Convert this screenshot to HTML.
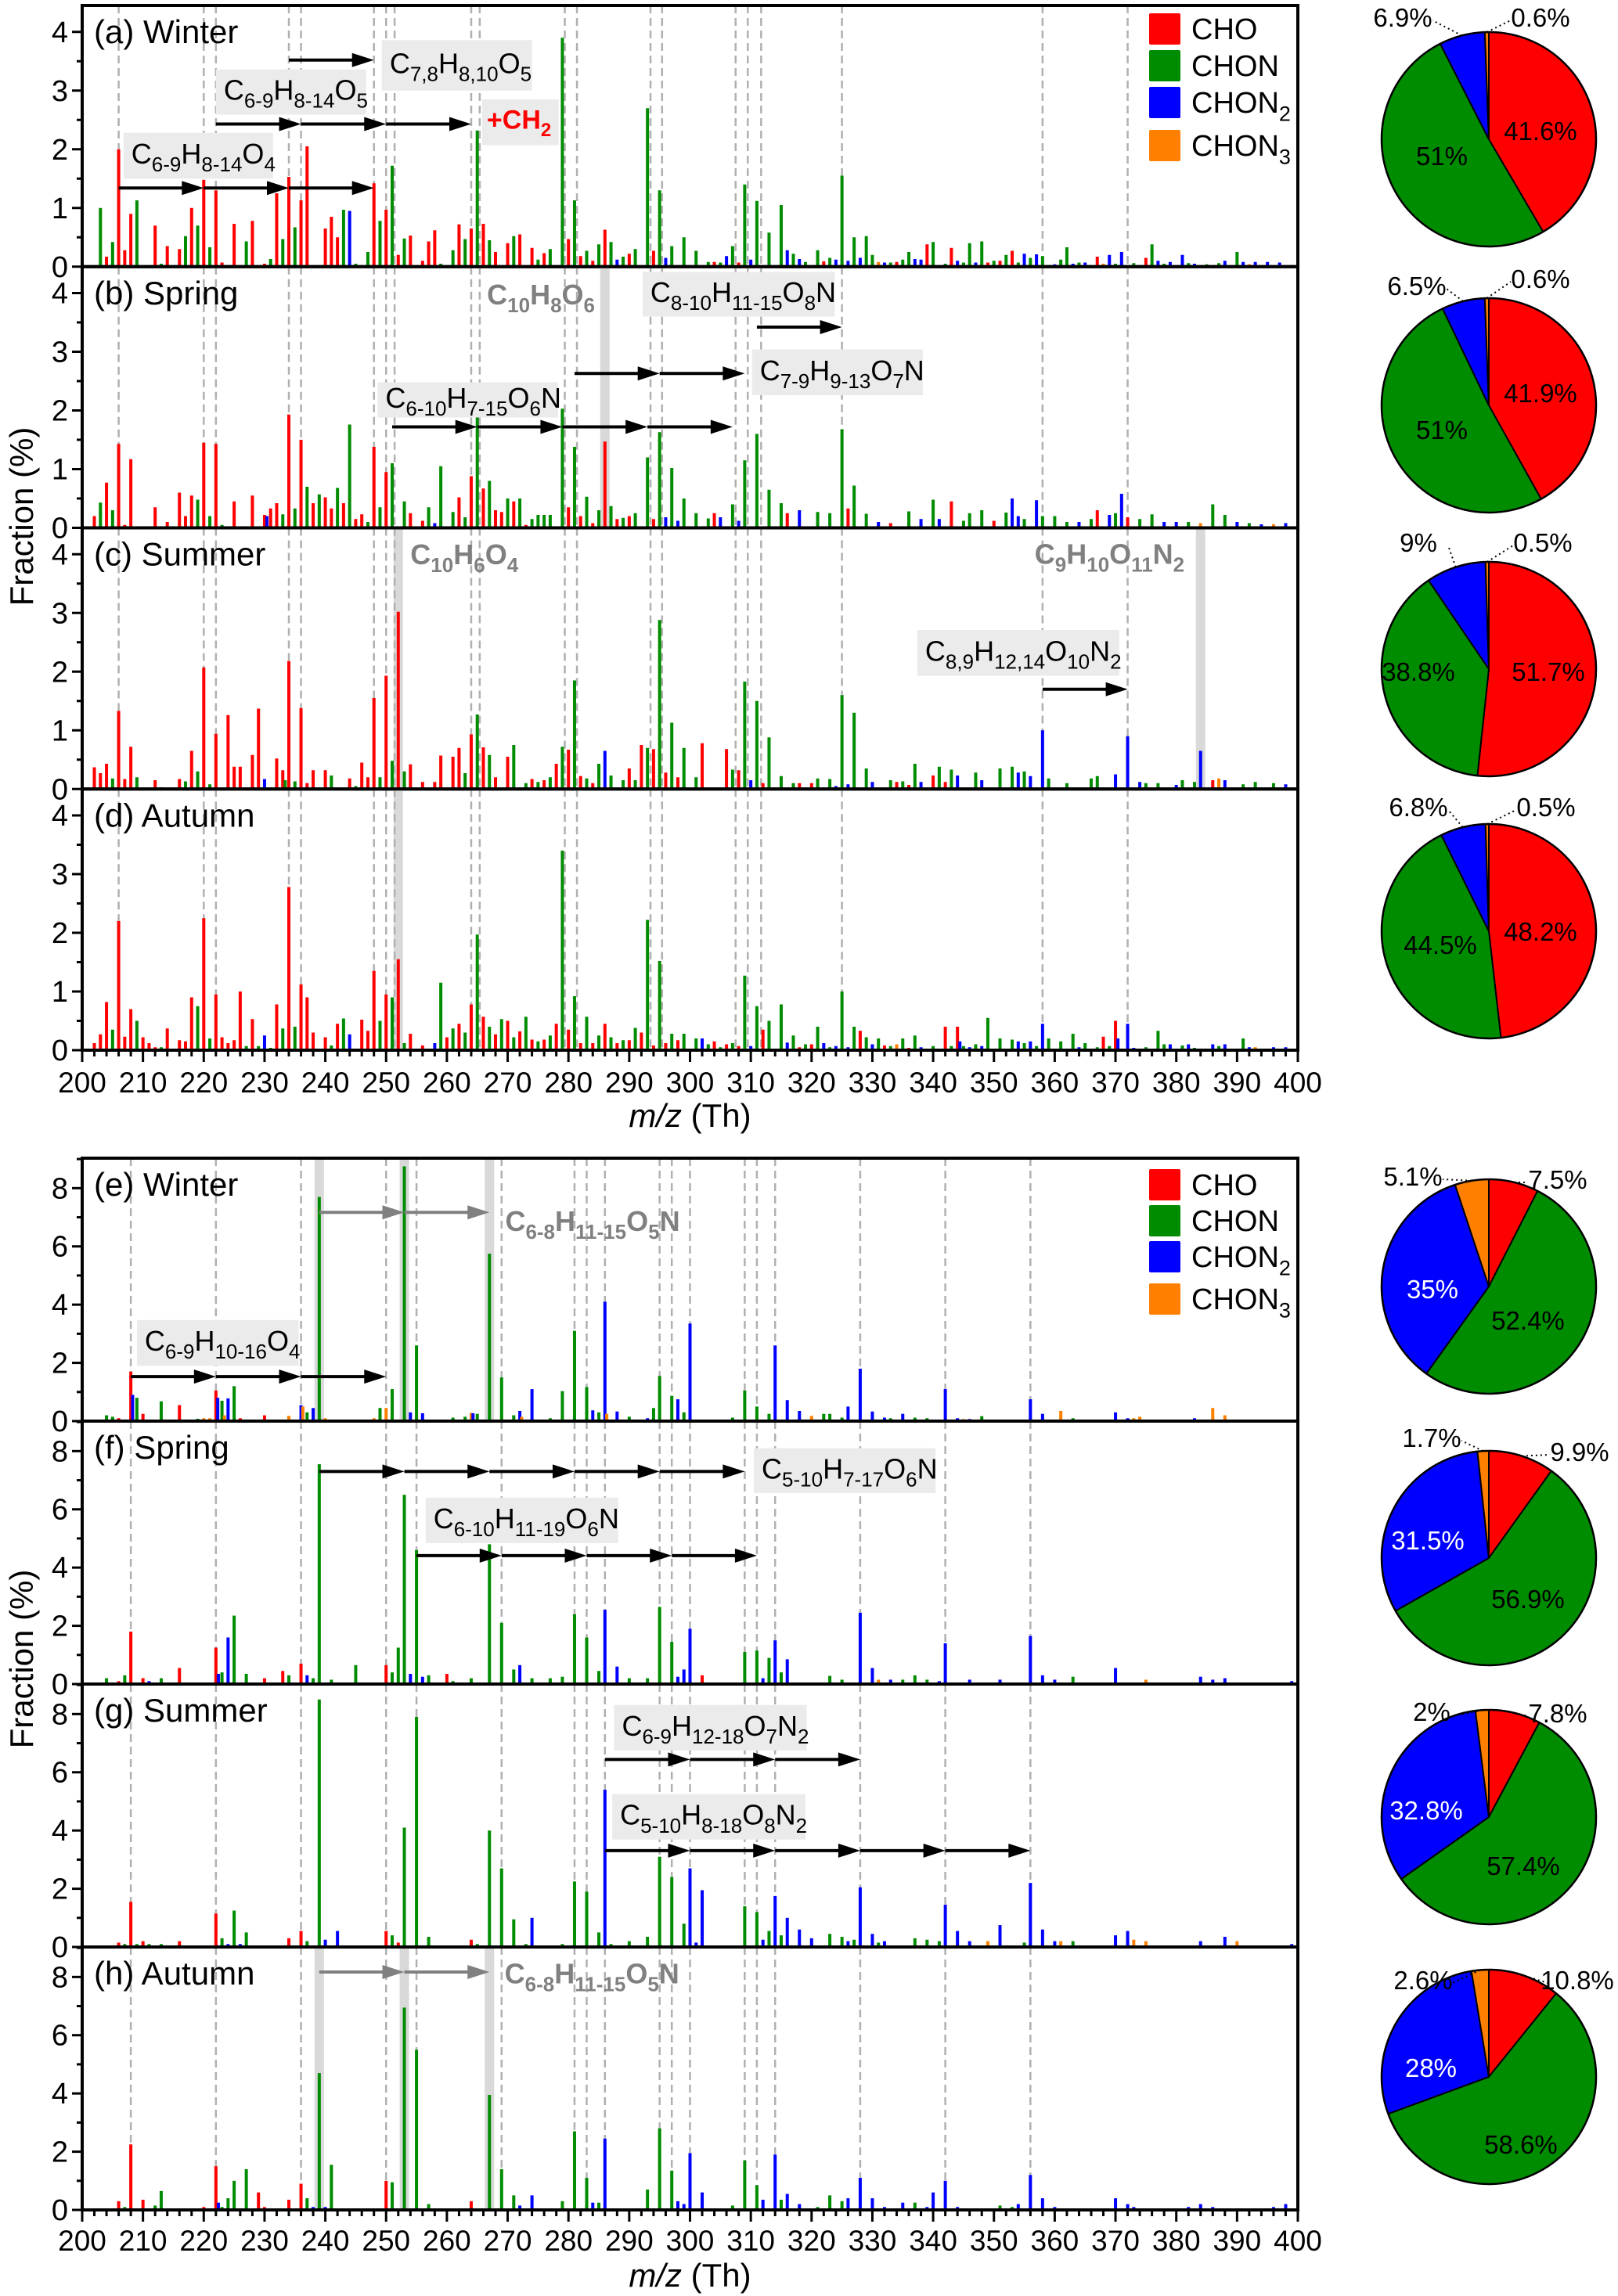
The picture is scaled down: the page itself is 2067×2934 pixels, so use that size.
<!DOCTYPE html>
<html><head><meta charset="utf-8"><title>Seasonal mass spectra</title>
<style>
html,body{margin:0;padding:0;background:#fff;}
svg{display:block;font-family:"Liberation Sans",Arial,sans-serif;}
</style></head>
<body>
<svg id="chart" width="2067" height="2934" viewBox="0 0 2067 2934" xmlns="http://www.w3.org/2000/svg"></svg>
<script>
// ---------- DATA ----------  [m/z, fraction %, class 0=CHO 1=CHON 2=CHON2 3=CHON3]
const seriesWinterA=[[203,1.0,1],[204,.17,0],[205,.42,1],[206,2.0,0],[207,.28,0],[208,.9,0],[209,1.13,1],[212,.7,0],[213,.05,1],[214,.35,0],[216,.3,0],[217,.52,1],[218,1.0,0],[219,.7,1],[220,1.48,0],[221,.33,1],[222,1.3,0],[223,.07,0],[225,.73,0],[227,.43,1],[228,.78,0],[230,.05,0],[231,.13,1],[232,1.25,0],[233,.47,1],[234,1.53,0],[235,.67,1],[236,1.13,0],[237,2.05,0],[240,.65,0],[241,.85,0],[242,.5,0],[243,.97,1],[244,.95,2],[245,.05,1],[247,.25,1],[248,1.42,0],[249,.78,1],[250,.97,0],[251,1.72,1],[252,.2,0],[253,.48,1],[254,.53,0],[256,.1,0],[257,.43,0],[258,.62,0],[259,.05,1],[261,.28,1],[262,.72,0],[263,.47,1],[264,.65,0],[265,2.32,1],[266,.73,0],[267,.45,1],[268,.25,0],[270,.4,0],[271,.52,1],[272,.55,0],[274,.32,0],[275,.12,1],[276,.23,0],[277,.3,1],[279,3.9,1],[280,.47,0],[281,1.13,1],[282,.18,0],[283,.27,1],[284,.1,0],[285,.38,1],[286,.63,0],[287,.42,1],[288,.12,2],[289,.17,1],[290,.22,0],[291,.3,1],[293,2.7,1],[294,.27,0],[295,1.3,1],[296,.15,2],[297,.35,1],[299,.5,1],[301,.27,1],[303,.08,1],[304,.08,0],[305,.07,1],[306,.18,2],[307,.35,1],[308,.07,0],[309,1.4,1],[310,.12,2],[311,1.12,1],[313,.58,1],[315,1.05,1],[316,.28,2],[317,.22,1],[318,.13,2],[319,.08,1],[321,.28,1],[322,.09,0],[323,.15,1],[324,.12,2],[325,1.55,1],[326,.1,2],[327,.5,1],[328,.15,2],[329,.52,1],[330,.2,1],[331,.08,3],[332,.07,2],[333,.07,1],[334,.08,0],[335,.12,1],[336,.25,1],[337,.13,2],[338,.12,2],[339,.38,0],[340,.42,1],[342,.05,1],[343,.32,0],[344,.1,2],[345,.07,1],[346,.4,1],[347,.07,2],[348,.43,1],[349,.07,0],[350,.1,1],[351,.1,0],[352,.2,1],[353,.27,0],[354,.07,1],[355,.22,2],[356,.15,1],[357,.21,2],[358,.18,1],[360,.04,2],[361,.12,1],[362,.33,1],[363,.05,2],[364,.07,1],[365,.07,2],[367,.17,0],[368,.05,3],[369,.2,2],[370,.05,1],[371,.25,2],[373,.06,1],[375,.15,0],[376,.38,1],[377,.1,2],[378,.05,1],[379,.08,2],[381,.2,2],[382,.06,1],[383,.05,2],[385,.04,1],[387,.06,1],[388,.1,2],[390,.25,1],[391,.08,2],[392,.04,3],[393,.08,2],[395,.08,2],[397,.07,2],[399,.03,3]];
const seriesSpringB=[[202,.2,0],[203,.43,1],[204,.77,0],[205,.3,1],[206,1.43,0],[207,.05,0],[208,1.17,0],[212,.35,0],[214,.1,0],[216,.6,0],[217,.2,0],[218,.55,0],[219,.48,1],[220,1.45,0],[221,.2,1],[222,1.43,0],[223,.05,1],[225,.45,0],[228,.55,0],[230,.22,0],[230.4,.2,2],[231,.33,0],[232,.42,0],[233,.23,1],[234,1.93,0],[235,.33,1],[236,1.5,0],[237,.7,1],[238,.42,0],[239,.57,1],[240,.52,0],[241,.33,0],[242,.68,1],[243,.42,0],[244,1.76,1],[245,.15,0],[246,.23,0],[247,.1,1],[248,1.38,0],[249,.35,1],[250,.95,0],[251,1.1,1],[253,.45,1],[254,.25,0],[256,.12,0],[257,.35,1],[258,.08,2],[259,1.05,1],[261,.27,1],[262,.52,0],[263,.18,1],[264,.88,0],[265,1.88,1],[266,.67,0],[267,.8,1],[268,.3,0],[269,.27,0],[270,.5,1],[271,.45,0],[272,.5,1],[273,.05,0],[274,.15,1],[275,.22,1],[276,.22,1],[277,.22,1],[279,2.03,1],[280,.35,0],[281,1.38,1],[282,.2,0],[283,.53,1],[284,.08,0],[285,.3,1],[286,1.47,0],[287,.37,1],[288,.15,0],[289,.17,1],[290,.2,0],[291,.25,1],[293,1.2,1],[294,.15,0],[295,1.63,1],[296,.18,2],[297,1.02,1],[298,.12,2],[299,.5,1],[301,.25,1],[303,.16,1],[304,.25,0],[305,.18,2],[307,.4,1],[308,.12,2],[309,1.15,1],[311,1.6,1],[313,.65,1],[315,.42,1],[316,.25,0],[318,.3,2],[321,.27,1],[323,.25,1],[325,1.68,1],[326,.33,0],[327,.72,1],[329,.24,1],[331,.1,2],[333,.08,0],[336,.28,1],[338,.15,2],[340,.48,1],[341,.15,2],[343,.45,0],[345,.12,1],[346,.25,1],[348,.3,1],[350,.12,0],[352,.26,1],[353,.5,2],[354,.2,2],[355,.15,1],[357,.47,2],[358,.2,1],[360,.2,1],[362,.1,1],[364,.1,2],[366,.15,1],[367,.3,0],[369,.22,2],[370,.25,1],[371,.58,2],[372,.18,0],[374,.15,1],[376,.23,1],[378,.1,2],[380,.1,2],[382,.1,1],[384,.08,3],[386,.4,1],[388,.22,1],[390,.1,2],[392,.08,1],[394,.06,2],[396,.06,3],[398,.08,2]];
const seriesSummerC=[[202,.37,0],[203,.27,0],[204,.43,0],[205,.18,1],[206,1.33,0],[207,.17,0],[208,.72,0],[209,.2,1],[212,.15,0],[213,.03,1],[216,.17,0],[217,.13,1],[218,.65,0],[219,.3,1],[220,2.07,0],[221,.08,1],[222,.94,0],[224,1.26,0],[225,.38,0],[226,.38,0],[228,.58,0],[229,1.37,0],[230,.17,2],[232,.52,0],[233,.32,0],[233.4,.15,1],[234,2.18,0],[235,.13,1],[236,1.38,0],[237,.1,0],[238,.32,0],[240,.32,0],[241,.23,1],[244,.18,0],[245,.05,1],[246,.45,0],[247,.2,0],[248,1.55,0],[249,.2,1],[250,1.93,0],[251,.48,1],[252,3.02,0],[253,.3,1],[254,.42,0],[256,.12,0],[258,.12,0],[259,.57,0],[261,.55,0],[262,.7,0],[263,.27,1],[264,.93,0],[265,1.27,1],[266,.71,0],[267,.58,1],[268,.2,0],[270,.55,0],[271,.75,1],[273,.1,1],[274,.17,0],[275,.12,1],[276,.15,0],[277,.2,1],[278,.43,0],[279,.72,1],[280,.67,0],[281,1.85,1],[282,.22,0],[283,.18,1],[284,.1,0],[285,.43,1],[286,.65,2],[287,.23,1],[289,.15,1],[290,.35,0],[291,.15,1],[292,.75,0],[293,.7,1],[294,.68,0],[295,2.88,1],[296,.28,0],[297,1.13,1],[298,.2,0],[299,.7,1],[301,.2,1],[302,.78,0],[306,.68,0],[307,.33,1],[308,.32,0],[309,1.83,1],[310,.15,2],[311,1.5,1],[312,.1,0],[313,.88,1],[315,.22,1],[317,.1,1],[318,.1,0],[320,.1,0],[321,.18,1],[323,.17,1],[324,.05,2],[325,1.6,1],[326,.08,2],[327,1.3,1],[329,.35,1],[330,.12,2],[333,.15,1],[334,.12,0],[335,.13,1],[336,.07,0],[337,.43,1],[338,.12,2],[340,.23,0],[341,.38,1],[342,.12,0],[343,.33,1],[344,.23,2],[347,.28,1],[348,.15,2],[351,.35,1],[353,.38,1],[354,.28,2],[355,.3,1],[356,.22,2],[358,1.0,2],[359,.18,1],[362,.1,1],[366,.18,1],[367,.22,1],[370,.25,2],[372,.9,2],[374,.12,2],[375,.1,1],[377,.1,1],[380,.07,2],[381,.15,1],[383,.12,1],[384,.65,2],[386,.15,0],[387,.18,3],[388,.15,2],[391,.08,1],[393,.12,1],[396,.1,1],[398,.08,2]];
const seriesAutumnD=[[202,.12,0],[203,.27,0],[204,.82,0],[205,.35,1],[206,2.2,0],[207,.23,0],[208,.7,0],[209,.5,1],[210,.22,0],[211,.12,0],[212,.05,0],[213,.05,1],[214,.37,0],[216,.17,0],[217,.15,0],[218,.9,0],[219,.75,1],[220,2.25,0],[221,.2,1],[222,.95,0],[223,.22,0],[224,.12,0],[225,.17,0],[226,1.0,0],[227,.07,1],[228,.53,0],[229,.07,1],[230,.25,2],[231,.04,1],[232,.78,0],[233,.37,1],[234,2.78,0],[235,.4,1],[236,1.12,0],[237,.9,0],[238,.3,0],[240,.22,0],[241,.08,1],[242,.45,0],[243,.54,1],[244,.27,2],[246,.52,0],[247,.33,0],[248,1.35,0],[249,.5,1],[250,.95,0],[251,.9,1],[252,1.55,0],[253,.12,1],[254,.28,0],[256,.08,0],[258,.12,2],[259,1.15,1],[260,.22,0],[261,.37,1],[262,.45,0],[263,.3,1],[264,.78,0],[265,1.97,1],[266,.57,0],[267,.4,1],[268,.27,0],[269,.53,1],[270,.5,0],[271,.22,1],[272,.32,0],[273,.57,1],[274,.18,0],[275,.15,1],[276,.18,0],[277,.25,1],[278,.45,0],[279,3.4,1],[280,.35,0],[281,.92,1],[282,.12,0],[283,.57,1],[284,.12,0],[285,.25,1],[286,.45,0],[287,.22,1],[288,.12,0],[289,.17,1],[290,.17,0],[291,.38,1],[292,.3,0],[293,2.22,1],[294,.08,0],[295,1.52,1],[296,.12,0],[297,.28,1],[298,.17,0],[299,.28,1],[301,.2,1],[302,.2,2],[303,.1,1],[304,.15,0],[305,.05,1],[306,.1,0],[307,.12,1],[308,.07,0],[309,1.27,1],[310,.07,2],[311,.75,1],[312,.35,0],[313,.5,1],[315,.78,1],[316,.13,2],[317,.25,1],[318,.05,0],[319,.1,1],[320,.1,0],[321,.4,1],[322,.12,2],[323,.05,1],[324,.07,2],[325,1.0,1],[326,.05,2],[327,.4,1],[328,.33,0],[329,.22,1],[330,.1,2],[331,.2,1],[332,.08,0],[333,.07,1],[334,.1,3],[335,.2,1],[336,.04,0],[337,.25,1],[338,.05,2],[340,.07,1],[342,.4,0],[343,.07,1],[344,.4,0],[344.4,.15,2],[345,.07,1],[346,.05,2],[347,.1,1],[348,.07,2],[349,.55,1],[351,.2,1],[353,.18,1],[354,.15,2],[355,.12,1],[356,.15,2],[357,.07,1],[358,.45,2],[359,.2,1],[361,.15,1],[363,.28,1],[364,.05,2],[365,.12,1],[367,.05,1],[368,.23,0],[369,.07,1],[370,.5,0],[370.4,.2,2],[372,.45,2],[373,.04,2],[375,.05,1],[377,.33,1],[378,.1,1],[379,.1,2],[381,.08,1],[382,.1,2],[383,.04,1],[386,.1,2],[387,.07,1],[388,.1,2],[391,.2,1],[392,.05,2],[393,.05,3],[396,.05,2],[398,.05,2]];
const seriesWinterE=[[204,.2,1],[205,.15,1],[206,.1,0],[207,.05,1],[208,1.7,0],[208.3,.9,2],[209,.8,1],[210,.25,0],[213,.68,1],[216,.55,0],[219,.08,1],[220,.1,3],[221,.1,3],[222,1.05,0],[222.3,.8,2],[223,.7,1],[223.4,.2,3],[224,.78,2],[225,1.2,1],[226,.1,0],[230,.2,0],[234,.18,3],[236,.55,2],[236.3,.5,3],[237,.3,1],[238,.45,2],[239,7.7,1],[240,.1,3],[248,.1,3],[249,.45,1],[250,.45,3],[251,1.1,1],[253,8.75,1],[254,.3,2],[255,2.6,1],[256,.27,2],[261,.12,1],[263,.15,1],[264,.28,3],[264.3,.27,2],[265,.25,1],[267,5.75,1],[269,1.5,1],[271,.2,1],[272,.35,2],[272.3,.15,3],[274,1.1,2],[277,.1,1],[278,.05,0],[279,1.03,1],[281,3.1,1],[283,1.17,1],[284,.37,2],[285,.3,1],[286,4.1,2],[286.3,.25,3],[288,.33,2],[290,.15,1],[293,.1,2],[294,.45,1],[295,1.55,1],[297,.87,1],[298,.75,2],[299,.3,1],[300,3.35,2],[307,.12,1],[309,1.05,1],[310,.05,2],[311,.5,1],[313,.25,1],[314,2.6,2],[316,.72,2],[318,.35,2],[320,.18,3],[321,.05,1],[322,.25,1],[323,.25,1],[324,.05,1],[325,.12,1],[326,.5,2],[328,1.8,2],[330,.33,2],[332,.12,2],[333,.1,1],[335,.25,2],[337,.12,1],[339,.1,1],[342,1.1,2],[344,.1,2],[345,.07,3],[346,.07,2],[348,.17,1],[350,.05,1],[356,.75,2],[358,.25,2],[360,.05,2],[361,.35,3],[363,.1,1],[370,.3,2],[372,.1,2],[373,.1,3],[374,.15,3],[383,.1,2],[385,.05,2],[386,.45,3],[388,.2,3],[389,.05,2],[397,.05,2],[399,.05,2]];
const seriesSpringF=[[204,.2,1],[206,.1,0],[207,.3,1],[208,1.8,0],[210,.2,0],[211,.1,2],[213,.2,1],[216,.55,0],[222,1.25,0],[222.4,.35,2],[223,.4,1],[224,1.6,2],[225,2.35,1],[227,.35,1],[230,.2,0],[233,.45,0],[234,.3,1],[236,.7,0],[237,.3,2],[238,.2,1],[239,7.55,1],[241,.15,1],[245,.65,1],[250,.65,0],[251,.4,1],[252,1.25,1],[253,6.5,1],[254,.35,2],[255,4.6,1],[256,.25,2],[257,.3,1],[260,.35,0],[261,.1,1],[264,.2,1],[267,4.8,1],[269,2.1,1],[271,.5,1],[272,.65,2],[274,.2,1],[277,.2,1],[279,.25,1],[281,2.4,1],[283,1.6,1],[285,.45,1],[286,2.55,2],[288,.6,2],[290,.2,1],[293,.2,1],[295,2.65,1],[297,1.45,1],[298,.25,2],[299,.5,2],[300,1.9,2],[302,.3,0],[309,1.1,1],[311,1.15,1],[312,.2,2],[313,.9,1],[314,1.5,2],[315,.4,1],[316,.85,2],[323,.28,1],[325,.15,1],[328,2.45,2],[330,.55,2],[331,.15,3],[333,.15,2],[335,.15,1],[337,.3,1],[339,.15,1],[341,.1,2],[342,1.4,2],[346,.15,2],[351,.15,2],[356,1.65,2],[358,.3,2],[360,.15,2],[363,.25,1],[370,.55,2],[375,.15,3],[384,.25,2],[386,.15,2],[388,.2,2],[399,.1,2]];
const seriesSummerG=[[204,.05,1],[206,.15,0],[207,.1,1],[208,1.55,0],[209,.1,1],[210,.2,0],[211,.1,1],[213,.1,1],[216,.2,0],[219,.05,1],[222,1.15,0],[223,.3,1],[224,.1,2],[225,1.25,1],[226,.1,2],[227,.5,1],[234,.3,0],[236,.55,0],[237,.2,1],[239,8.5,1],[240,.25,2],[242,.55,2],[250,.55,0],[251,.4,1],[252,.15,0],[253,4.1,1],[255,7.9,1],[257,.35,1],[264,.25,0],[265,.1,1],[267,4.0,1],[269,2.7,1],[271,.95,1],[273,.1,1],[274,1.0,2],[279,.1,1],[281,2.25,1],[283,1.9,1],[285,.5,1],[286,5.4,2],[287,.1,1],[290,.2,1],[293,.35,1],[295,3.1,1],[297,2.4,1],[299,.8,1],[300,2.7,2],[301,.15,2],[302,1.95,2],[309,1.4,1],[311,1.2,1],[312,.25,2],[313,.55,1],[314,1.75,2],[315,.4,1],[316,1.0,2],[318,.6,2],[320,.3,2],[323,.45,1],[325,.35,1],[326,.2,2],[327,.25,1],[328,2.05,2],[330,.45,2],[331,.15,1],[332,.2,2],[337,.3,1],[339,.25,1],[341,.2,1],[342,1.45,2],[344,.55,2],[346,.2,2],[349,.2,3],[351,.75,2],[355,.15,1],[356,2.2,2],[358,.6,2],[360,.2,2],[361,.2,3],[363,.2,1],[370,.4,2],[372,.55,2],[373,.25,3],[375,.2,3],[384,.2,2],[388,.35,2],[390,.2,3],[399,.1,2]];
const seriesAutumnH=[[204,.05,1],[206,.3,0],[207,.1,1],[208,2.25,0],[210,.35,0],[212,.15,1],[213,.65,1],[219,.05,1],[220,.1,0],[222,1.5,0],[222.4,.25,2],[223,.1,1],[224,.4,1],[225,1.0,1],[227,1.4,1],[229,.6,0],[230,.1,0],[234,.35,0],[236,.9,0],[237,.4,1],[238,.1,2],[239,4.7,1],[240,.1,2],[241,1.55,1],[250,1.0,0],[251,.95,1],[253,6.95,1],[255,5.5,1],[257,.2,1],[264,.3,0],[267,3.95,1],[269,1.4,1],[271,.5,1],[272,.15,2],[274,.5,2],[279,.3,1],[281,2.7,1],[283,1.1,1],[284,.25,2],[285,.25,1],[286,2.45,2],[293,.7,1],[295,2.8,1],[297,1.35,1],[298,.3,2],[299,.2,2],[300,1.95,2],[302,.6,2],[307,.15,1],[309,1.7,1],[311,.85,1],[312,.35,2],[314,1.9,2],[315,.35,1],[316,.55,2],[318,.2,2],[321,.1,1],[323,.5,1],[325,.3,1],[326,.4,2],[328,1.1,2],[330,.4,2],[332,.1,2],[335,.25,2],[337,.25,1],[339,.1,2],[340,.6,2],[342,1.0,2],[344,.1,2],[351,.15,1],[353,.1,1],[354,.2,2],[356,1.2,2],[358,.4,2],[360,.1,2],[365,.05,1],[370,.4,2],[372,.2,2],[373,.1,2],[382,.1,2],[384,.2,2],[386,.1,2],[396,.1,2],[398,.2,2]];

const pieValuesA=[41.6,51,6.9,0.6];
const pieValuesB=[41.9,51,6.5,0.6];
const pieValuesC=[51.7,38.8,9,0.5];
const pieValuesD=[48.2,44.5,6.8,0.5];
const pieValuesE=[7.5,52.4,35,5.1];
const pieValuesF=[9.9,56.9,31.5,1.7];
const pieValuesG=[7.8,57.4,32.8,2];
const pieValuesH=[10.8,58.6,28,2.6];

const classNames=['CHO','CHON','CHON_{2}','CHON_{3}'];
const topYTicks=[0,1,2,3,4];
const bottomYTicks=[0,2,4,6,8];
const xTickLabels=[200,210,220,230,240,250,260,270,280,290,300,310,320,330,340,350,360,370,380,390,400];
const topDashed=[206,220,222,234,236,248,250,251.4,264,265.4,279.4,281.4,293.5,295.4,307.5,309.5,311.7,325,358,372];
const bottomDashed=[208,222,236,250,255,269,281,283,286,295,297,300,309,311,314,328,342,356];

// ---------- RENDER ----------
const NS='http://www.w3.org/2000/svg';
const svg=document.getElementById('chart');
const COLORS=['#ff0000','#008c00','#0000ff','#ff8000'];
const PL=105, PR=1658;
function xS(mz){return PL+(mz-200)*(PR-PL)/200;}
function el(tag,attrs,parent){const e=document.createElementNS(NS,tag);for(const k in attrs)e.setAttribute(k,attrs[k]);(parent||svg).appendChild(e);return e;}
function yS(p,v){return p.top+p.H-v*p.H/p.max;}

function formula(str,x,y,size,opts,parent){
  const t=el('text',{x:x,y:y,'font-size':size,fill:opts.fill||'#000','font-weight':opts.bold?'bold':'normal','text-anchor':opts.anchor||'start'},parent);
  const parts=str.split(/(_\{[^}]*\})/);let sub=false;
  parts.forEach(s=>{if(!s)return;
    if(s.startsWith('_{')){const ts=el('tspan',{'font-size':Math.round(size*0.72),dy:size*0.28},t);ts.textContent=s.slice(2,-1);sub=true;}
    else{const ts=el('tspan',{dy:sub?-size*0.28:0},t);ts.textContent=s;sub=false;}
  });
  return t;
}

const topH=333.75, botH=336;
const panels=[
 {id:'a',label:'(a) Winter',data:seriesWinterA,top:7,H:topH,max:4.45,grp:0},
 {id:'b',label:'(b) Spring',data:seriesSpringB,top:7+topH,H:topH,max:4.45,grp:0},
 {id:'c',label:'(c) Summer',data:seriesSummerC,top:7+2*topH,H:topH,max:4.45,grp:0},
 {id:'d',label:'(d) Autumn',data:seriesAutumnD,top:7+3*topH,H:topH,max:4.45,grp:0},
 {id:'e',label:'(e) Winter',data:seriesWinterE,top:1480,H:botH,max:9.03,grp:1},
 {id:'f',label:'(f) Spring',data:seriesSpringF,top:1480+botH,H:botH,max:9.03,grp:1},
 {id:'g',label:'(g) Summer',data:seriesSummerG,top:1480+2*botH,H:botH,max:9.03,grp:1},
 {id:'h',label:'(h) Autumn',data:seriesAutumnH,top:1480+3*botH,H:botH,max:9.03,grp:1}
];
const bands={b:[286],c:[252,384],d:[252],e:[239,253,267],h:[239,253,267]};

function arrowChain(p,mzs,val,color,g){
  const y=yS(p,val);
  for(let i=0;i<mzs.length-1;i++){
    const x1=xS(mzs[i]),x2=xS(mzs[i+1]);
    const ln=el('line',{x1:x1,y1:y,x2:x2-26,y2:y,stroke:color,'stroke-width':4},g);
    
    
    const hd=el('polygon',{points:`${x2},${y} ${x2-28},${y-9} ${x2-28},${y+9}`,fill:color},g);
    
    
  }
}
function box(p,mz1,mz2,v1,v2,text,g){
  const x1=xS(mz1),x2=xS(mz2),y1=yS(p,v1),y2=yS(p,v2);
  const r=el('rect',{x:x1,y:y1,width:x2-x1,height:y2-y1,fill:'#ebebeb'},g);
  
  
  const t=formula(text,x1+10,(y1+y2)/2+10,36,{},g);
  
  
}
function grayLabel(p,mz,val,text,g){
  const t=formula(text,xS(mz),yS(p,val)+12,36,{bold:true,fill:'#808080'},g);
  
  
}

panels.forEach((p,i)=>{
  const g=el('g',{});
  
  
  const bottom=p.top+p.H;
  (bands[p.id]||[]).forEach(mz=>{
    const b=el('rect',{x:xS(mz)-6,y:p.top,width:12,height:p.H,fill:'#d9d9d9'},g);
    
    
  });
  (p.grp?bottomDashed:topDashed).forEach(mz=>{
    const l=el('line',{x1:xS(mz),y1:p.top,x2:xS(mz),y2:bottom,stroke:'#b0b0b0','stroke-width':2.5,'stroke-dasharray':'10,6'},g);
    
    
  });
  const sorted=p.data.slice().sort((a,b)=>b[1]-a[1]);
  sorted.forEach(d=>{
    const y=yS(p,d[1]);
    const r=el('rect',{x:xS(d[0])-2,y:y,width:4,height:bottom-y,fill:COLORS[d[2]]},g);
    
    
  });
  const fr=el('rect',{x:PL,y:p.top,width:PR-PL,height:p.H,fill:'none',stroke:'#000','stroke-width':4},g);
  
  
  const ticks=p.grp?bottomYTicks:topYTicks; const step=p.grp?1:0.5;
  for(let v=0;v<=p.max;v+=step){
    const major=ticks.includes(Math.round(v*10)/10);
    const tk=el('line',{x1:PL-(major?13:7),y1:yS(p,v),x2:PL,y2:yS(p,v),stroke:'#000','stroke-width':3},g);
    
    
  }
  ticks.forEach(v=>{
    const t=el('text',{x:PL-18,y:yS(p,v)+13,'font-size':38,'text-anchor':'end'},g);
    t.textContent=v;
    
    
  });
  const lb=el('text',{x:120,y:p.top+48,'font-size':42},g);
  lb.textContent=p.label;
  
  
  p.g=g;
});

const A=panels;
box(A[0],249.3,274,3.86,3.0,'C_{7,8}H_{8,10}O_{5}',A[0].g);
arrowChain(A[0],[234,248],3.52,'#000',A[0].g);
box(A[0],222,246.7,3.36,2.59,'C_{6-9}H_{8-14}O_{5}',A[0].g);
arrowChain(A[0],[222,236,250,264],2.43,'#000',A[0].g);
{const x1=xS(265.8),x2=xS(278.4),y1=yS(A[0],2.85),y2=yS(A[0],2.07);
 const r=el('rect',{x:x1,y:y1,width:x2-x1,height:y2-y1,fill:'#ebebeb'},A[0].g);
 const t=formula('+CH_{2}',x1+6,(y1+y2)/2+8,34,{bold:true,fill:'#ff0000'},A[0].g);}
box(A[0],206.8,231.4,2.28,1.5,'C_{6-9}H_{8-14}O_{4}',A[0].g);
arrowChain(A[0],[206,220,234,248],1.34,'#000',A[0].g);

grayLabel(A[1],266.6,3.97,'C_{10}H_{8}O_{6}',A[1].g);
box(A[1],292.2,323.8,4.36,3.6,'C_{8-10}H_{11-15}O_{8}N',A[1].g);
arrowChain(A[1],[311,325],3.42,'#000',A[1].g);
box(A[1],310.2,338.3,3.04,2.26,'C_{7-9}H_{9-13}O_{7}N',A[1].g);
arrowChain(A[1],[281,295,309],2.63,'#000',A[1].g);
box(A[1],248.6,278.3,2.48,1.88,'C_{6-10}H_{7-15}O_{6}N',A[1].g);
arrowChain(A[1],[251,265,279,293,307],1.72,'#000',A[1].g);

grayLabel(A[2],254,3.99,'C_{10}H_{6}O_{4}',A[2].g);
grayLabel(A[2],356.7,4.0,'C_{9}H_{10}O_{11}N_{2}',A[2].g);
box(A[2],337.4,370.6,2.71,1.93,'C_{8,9}H_{12,14}O_{10}N_{2}',A[2].g);
arrowChain(A[2],[358,372],1.7,'#000',A[2].g);

arrowChain(A[4],[239,253,267],7.17,'#808080',A[4].g);
grayLabel(A[4],269.6,6.85,'C_{6-8}H_{11-15}O_{5}N',A[4].g);
box(A[4],209,235.6,3.47,1.9,'C_{6-9}H_{10-16}O_{4}',A[4].g);
arrowChain(A[4],[208,222,236,250],1.53,'#000',A[4].g);

arrowChain(A[5],[239,253,267,281,295,309],7.3,'#000',A[5].g);
box(A[5],310.5,340.4,8.1,6.56,'C_{5-10}H_{7-17}O_{6}N',A[5].g);
box(A[5],256.5,288.2,6.4,4.84,'C_{6-10}H_{11-19}O_{6}N',A[5].g);
arrowChain(A[5],[255,269,283,297,311],4.41,'#000',A[5].g);

box(A[6],287.5,319.2,8.31,6.75,'C_{6-9}H_{12-18}O_{7}N_{2}',A[6].g);
arrowChain(A[6],[286,300,314,328],6.44,'#000',A[6].g);
box(A[6],287.2,319,5.25,3.69,'C_{5-10}H_{8-18}O_{8}N_{2}',A[6].g);
arrowChain(A[6],[286,300,314,328,342,356],3.31,'#000',A[6].g);

arrowChain(A[7],[239,253,267],8.17,'#808080',A[7].g);
grayLabel(A[7],269.5,8.1,'C_{6-8}H_{11-15}O_{5}N',A[7].g);

[[A[3],1396,1440],[A[7],2876,2922]].forEach(([p,ly,ty])=>{
  const g=el('g',{});
  
  
  const b=p.top+p.H;
  for(let m=200;m<=400;m+=2){
    const major=m%10===0;
    const tk=el('line',{x1:xS(m),y1:b,x2:xS(m),y2:b+(major?15:8),stroke:'#000','stroke-width':3},g);
    
    
  }
  xTickLabels.forEach(v=>{
    const t=el('text',{x:xS(v),y:ly,'font-size':37,'text-anchor':'middle'},g);
    t.textContent=v;
    
    
  });
  const t=el('text',{x:xS(300),y:ty,'font-size':42,'text-anchor':'middle'},g);
  const i1=el('tspan',{'font-style':'italic'},t);i1.textContent='m/z';
  const i2=el('tspan',{},t);i2.textContent=' (Th)';
  
  
});
[660,2120].forEach(cy=>{
  const t=el('text',{x:42,y:cy,'font-size':42,'text-anchor':'middle',transform:`rotate(-90 42 ${cy})`});
  t.textContent='Fraction (%)';
  
  
});

[[37,84,131,186],[1514,1560,1606,1660]].forEach(rows=>{
  const g=el('g',{});
  
  
  rows.forEach((cy,i)=>{
    const r=el('rect',{x:1468,y:cy-20,width:40,height:40,rx:2,fill:COLORS[i]},g);
    
    
    const t=formula(classNames[i],1522,cy+13,38,{},g);
    
    
  });
});

const pies=[
 {v:pieValuesA,cy:178,lab:[[1968,167,0,'#000'],[1842,199,1,'#000'],[1792,22,2,'#000'],[1968,22,3,'#000']]},
 {v:pieValuesB,cy:518,lab:[[1968,502,0,'#000'],[1842,549,1,'#000'],[1810,365,2,'#000'],[1968,356,3,'#000']]},
 {v:pieValuesC,cy:855,lab:[[1978,858,0,'#000'],[1812,858,1,'#000'],[1812,693,2,'#000'],[1971,693,3,'#000']]},
 {v:pieValuesD,cy:1190,lab:[[1968,1190,0,'#000'],[1840,1207,1,'#000'],[1812,1031,2,'#000'],[1975,1031,3,'#000']]},
 {v:pieValuesE,cy:1644,lab:[[1990,1507,0,'#000'],[1952,1687,1,'#000'],[1830,1647,2,'#fff'],[1805,1503,3,'#000']]},
 {v:pieValuesF,cy:1991,lab:[[2018,1855,0,'#000'],[1952,2043,1,'#000'],[1824,1968,2,'#fff'],[1829,1837,3,'#000']]},
 {v:pieValuesG,cy:2322,lab:[[1990,2189,0,'#000'],[1946,2384,1,'#000'],[1822,2313,2,'#fff'],[1829,2187,3,'#000']]},
 {v:pieValuesH,cy:2654,lab:[[2015,2530,0,'#000'],[1943,2740,1,'#000'],[1828,2642,2,'#fff'],[1818,2530,3,'#000']]}
];
pies.forEach((pc,pi)=>{
  const g=el('g',{});
  
  
  const cx=1902,cy=pc.cy,R=137;
  const tot=pc.v.reduce((a,b)=>a+b,0);
  let a0=0;
  pc.mid=[];
  pc.v.forEach((v,i)=>{
    const a1=a0+v/tot*2*Math.PI;
    const p0=[cx+R*Math.sin(a0),cy-R*Math.cos(a0)],p1=[cx+R*Math.sin(a1),cy-R*Math.cos(a1)];
    const large=(a1-a0)>Math.PI?1:0;
    const s=el('path',{d:`M${cx},${cy} L${p0[0]},${p0[1]} A${R},${R} 0 ${large} 1 ${p1[0]},${p1[1]} Z`,fill:COLORS[i],stroke:'#000','stroke-width':2},g);
    
    
    pc.mid[i]=(a0+a1)/2;
    a0=a1;
  });
  const c=el('circle',{cx:cx,cy:cy,r:R,fill:'none',stroke:'#000','stroke-width':2.5},g);
  
  
  pc.lab.forEach(([x,y,i,col])=>{
    const dist=Math.hypot(x-cx,y-cy);
    if(dist>R){
      const a=pc.mid[i];
      const ex=cx+R*Math.sin(a),ey=cy-R*Math.cos(a);
      const tx=x+(x<cx?38:-38),ty=y+4;
      const ld=el('line',{x1:ex,y1:ey,x2:tx,y2:ty,stroke:'#000','stroke-width':2,'stroke-dasharray':'2,4'},g);
      
      
    }
    const t=el('text',{x:x,y:y+12,'font-size':33,'text-anchor':'middle',fill:col},g);
    t.textContent=pc.v[i]+'%';
    
    
  });
});
</script>
</body></html>
